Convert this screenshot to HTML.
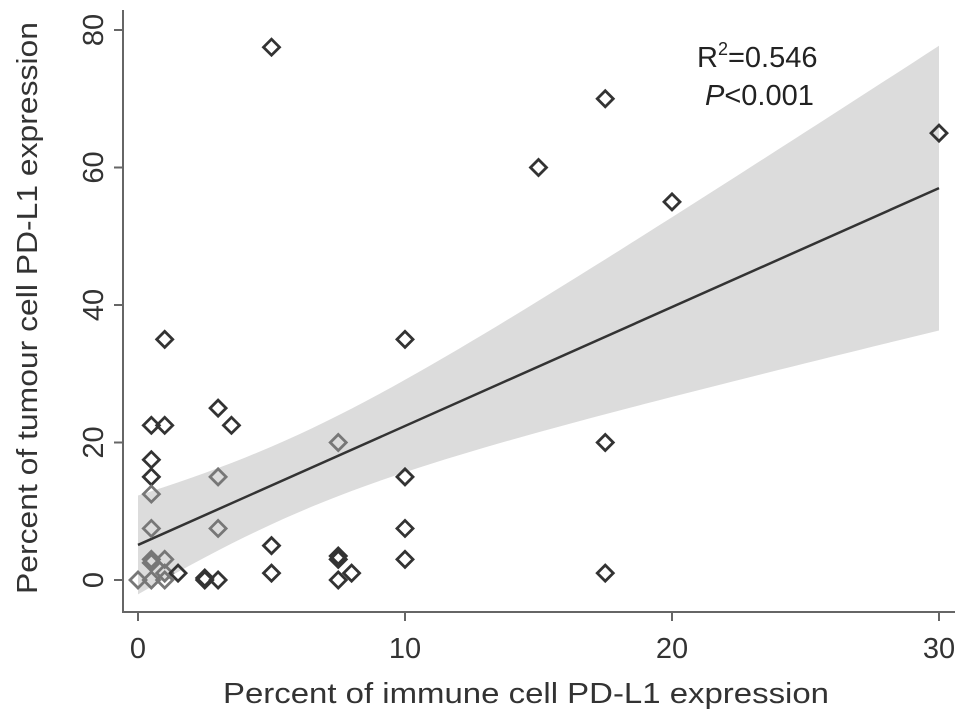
<!DOCTYPE html>
<html><head><meta charset="utf-8"><style>
body{margin:0;background:#fff;}
svg{display:block;font-family:"Liberation Sans",Arial,sans-serif;}
</style></head><body>
<svg id="chart" width="969" height="722" viewBox="0 0 969 722">
<g id="band-layer"></g>
<g id="line-layer"></g>
<g id="points-layer"></g>
<g id="axes-layer"></g>
<text x="697" y="67" font-size="29" fill="#222">R<tspan dy="-12" font-size="18">2</tspan><tspan dy="12">=0.546</tspan></text>
<text x="705" y="105" font-size="29" fill="#222"><tspan font-style="italic">P</tspan>&lt;0.001</text>
<text x="526" y="703" font-size="29" fill="#333" text-anchor="middle" textLength="606" lengthAdjust="spacingAndGlyphs">Percent of immune cell PD-L1 expression</text>
<text transform="translate(37,308) rotate(-90)" font-size="29" fill="#333" text-anchor="middle" textLength="572" lengthAdjust="spacingAndGlyphs">Percent of tumour cell PD-L1 expression</text>
</svg>
<script>
const xVals=[5,17.5,30,15,20,1,10,0.5,1,3,3.5,7.5,17.5,0.5,0.5,3,10,0.5,0.5,3,10,5,0.5,1,10,7.5,7.5,0,0.5,1,1,1.5,2.5,2.5,3,5,7.5,8,17.5,0.5];
const yVals=[77.5,70,65,60,55,35,35,22.5,22.5,25,22.5,20,20,17.5,15,15,15,12.5,7.5,7.5,7.5,5,3,3,3,3.5,3,0,0,0,1,1,0,0.3,0,1,0,1,1,2.5];
const faded=[0,0,0,0,0,0,0,0,0,0,0,1,0,0,0,1,0,1,1,1,0,0,1,1,0,0,0,1,1,1,1,0,0,0,0,0,0,0,0,1];
const xTicks=[0,10,20,30];
const yTicks=[0,20,40,60,80];
const fitIntercept=5.1, fitSlope=1.73;
const ciMean=5.5, ciA=31.8, ciB=0.661;
const xs=v=>138+v*(939-138)/30;
const ys=v=>580-v*(580-30)/80;
const NS="http://www.w3.org/2000/svg";
function mk(tag,attrs,parent){const e=document.createElementNS(NS,tag);for(const k in attrs)e.setAttribute(k,attrs[k]);parent.appendChild(e);return e;}
const band=document.getElementById('band-layer');
let up=[],lo=[];
for(let i=0;i<=60;i++){const x=i*0.5;const f=fitIntercept+fitSlope*x;const h=Math.sqrt(ciA+ciB*(x-ciMean)**2);up.push(xs(x)+','+ys(f+h));lo.unshift(xs(x)+','+ys(f-h));}
const bp=mk('polygon',{points:up.concat(lo).join(' '),fill:'#dcdcdc'},band);


const fl=mk('line',{x1:xs(0),y1:ys(fitIntercept),x2:xs(30),y2:ys(fitIntercept+fitSlope*30),stroke:'#333','stroke-width':2.5},document.getElementById('line-layer'));


const pts=document.getElementById('points-layer');
xVals.forEach((x,i)=>{const cx=xs(x),cy=ys(yVals[i]),r=8;
const p=mk('polygon',{points:`${cx},${cy-r} ${cx+r},${cy} ${cx},${cy+r} ${cx-r},${cy}`,fill:'none',stroke:faded[i]?'#777':'#333','stroke-width':2.8},pts);

});
const ax=document.getElementById('axes-layer');
const ya=mk('line',{x1:123,y1:10,x2:123,y2:612,stroke:'#666','stroke-width':2},ax);


const xa=mk('line',{x1:122,y1:612,x2:955,y2:612,stroke:'#666','stroke-width':2},ax);


xTicks.forEach(t=>{mk('line',{x1:xs(t),y1:612,x2:xs(t),y2:621,stroke:'#666','stroke-width':2},ax);
const tx=mk('text',{x:xs(t),y:658,'font-size':29,fill:'#333','text-anchor':'middle'},ax);tx.textContent=t;

});
yTicks.forEach(t=>{mk('line',{x1:114,y1:ys(t),x2:123,y2:ys(t),stroke:'#666','stroke-width':2},ax);
const tx=mk('text',{transform:`translate(103,${ys(t)}) rotate(-90)`,'font-size':29,fill:'#333','text-anchor':'middle'},ax);tx.textContent=t;

});
</script>
</body></html>
